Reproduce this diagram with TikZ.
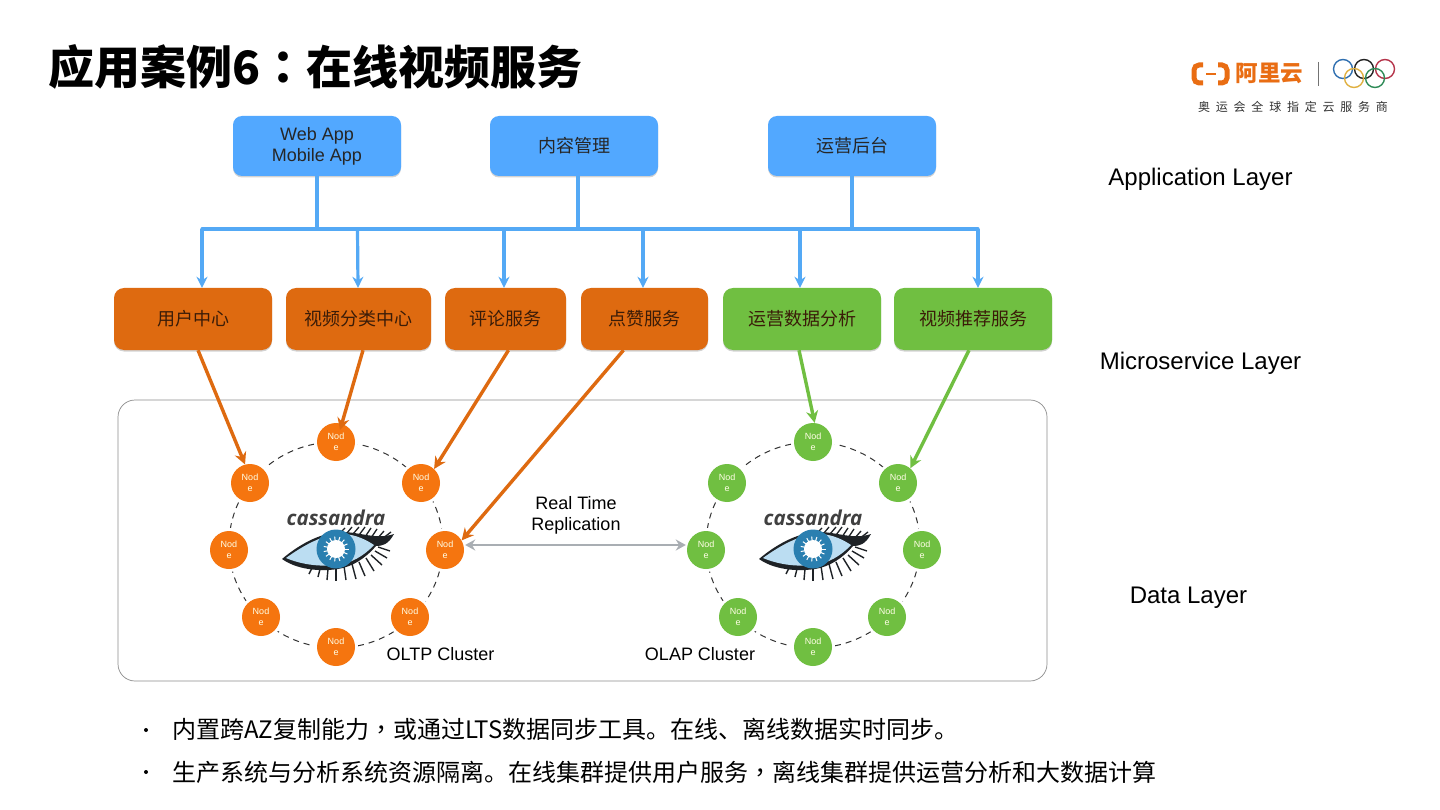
\documentclass[tikz,border=0pt]{standalone}
\usepackage{xcolor}
\usepackage{fontspec}
\usepackage{tikz}
\usetikzlibrary{calc,arrows.meta,shadows}
\setmainfont{Noto Sans CJK SC}
\newfontfamily\latinfont{Liberation Sans}
\newfontfamily\logofont{Open Sans}
\newfontfamily\tcpunct{Noto Sans CJK TC}
\newfontfamily\spacedfont[LetterSpace=48]{Noto Sans CJK SC}
\definecolor{appblue}{HTML}{52A8FF}
\definecolor{linkblue}{HTML}{54A9F5}
\definecolor{svcorange}{HTML}{DE6A10}
\definecolor{svcgreen}{HTML}{70BF41}
\definecolor{ringorange}{HTML}{F5750F}
\definecolor{aliorange}{HTML}{E96D13}
\definecolor{boxtext}{HTML}{3A1C08}
\definecolor{eyelight}{HTML}{BBDDF2}
\definecolor{eyeiris}{HTML}{2A7FB0}
\definecolor{eyedark}{HTML}{1E2226}
\definecolor{replgray}{HTML}{A9AEB3}
\definecolor{ringa}{HTML}{2F6FB0}
\definecolor{ringb}{HTML}{222222}
\definecolor{ringc}{HTML}{B5344A}
\definecolor{ringd}{HTML}{E0B040}
\definecolor{ringe}{HTML}{2E8B57}
\tikzset{
    appbox/.style={rounded corners=9pt,fill=appblue,minimum height=60pt,align=center,
        font=\fontsize{18}{21}\selectfont,text=black!85,
        drop shadow={shadow xshift=0pt,shadow yshift=-1.5pt,opacity=.35}},
    svcbox/.style={rounded corners=10pt,minimum height=62pt,font=\fontsize{18}{21}\selectfont,text=boxtext,
        drop shadow={shadow xshift=0pt,shadow yshift=-1.5pt,opacity=.35}},
    ringnode/.style={circle,minimum size=38pt,inner sep=0pt,align=center,text=white!90!yellow,
        font=\latinfont\fontsize{9}{11}\selectfont,
        preaction={draw=white,line width=6pt}},
    layertext/.style={font=\latinfont\fontsize{24}{28}\selectfont},
    plaintext/.style={font=\latinfont\fontsize{18}{21}\selectfont,align=center},
    bullettext/.style={anchor=west,font=\fontsize{24}{28}\selectfont,inner sep=0pt},
    uplink/.style={line width=3.2pt,linkblue},
    downlink/.style={line width=3.2pt,linkblue,-{Stealth[length=11pt,width=11pt]}},
    datalink/.style={line width=3.4pt,-{Stealth[length=12pt,width=12pt]}},
    pics/eyelogo/.style={code={
        % lashes first, then the lid and the iris
        \foreach \a/\b/\c/\d in {4/-19/9/-24,11/-19/16/-25,17/-18/23/-25,
            23/-17/29/-25,29/-15/35/-24,35/-14/41/-23,41/-13/48/-21,46/-13/55/-20}
            \draw[eyedark,line width=1.3pt] (\a,\b) -- (\c,\d);
        \foreach \a/\b/\c/\d in {-24/16/-27/22,-16/17/-18/25,-8/17/-9/28,0/16/0/29,8/14/10/28,
            16/12/20/27,23/10/29/24,30/6/38/19,35/3/46/13,39/-1/51/6,42/-5/54/-1}
            \draw[eyedark,line width=1.4pt] (\a,\b) -- (\c,\d);
        \fill[eyedark] (-54,7) .. controls (-34,-10) and (-12,-20) .. (6,-20)
            .. controls (24,-20) and (40,-12) .. (58,-18)
            .. controls (52,-7) and (46,-6) .. (40,-6)
            .. controls (30,6) and (16,15) .. (2,17)
            .. controls (-18,20) and (-40,17) .. (-54,7) -- cycle;
        \fill[eyelight] (-50,6) .. controls (-32,-7) and (-12,-18) .. (6,-18)
            .. controls (20,-18) and (32,-11) .. (38,-7)
            .. controls (28,4) and (14,12) .. (0,13)
            .. controls (-18,15) and (-36,12) .. (-50,6) -- cycle;
        \fill[eyeiris] (0,-3) circle (19.5pt);
        \foreach \ang in {0,24,...,336}
            \draw[white,line width=1pt] (0,-3) -- ++(\ang:12.5pt);
        \fill[white] (0,-3) circle (9pt);
    }},
}
\begin{document}
\begin{tikzpicture}[x=1pt,y=-1pt]
    \useasboundingbox[fill=white] (0,0) rectangle (1440,810);

    \node[anchor=west,inner sep=0pt,font=\bfseries\fontsize{46}{50}\selectfont] (title) at (48,67) {应用案例6{\tcpunct\bfseries ：}在线视频服务};

    % logo top right
    \draw[aliorange,line width=5pt,rounded corners=5pt] (1203,65) -- (1194,65) -- (1194,83) -- (1203,83);
    \draw[aliorange,line width=5pt,rounded corners=5pt] (1218,65) -- (1227,65) -- (1227,83) -- (1218,83);
    \draw[aliorange,line width=2.2pt] (1206,74) -- (1216,74);
    \node[anchor=west,inner sep=0pt,text=aliorange,font=\bfseries\fontsize{22.5}{24}\selectfont] (aliname) at (1235.5,73.5) {阿里云};
    \draw[black!55,line width=1pt] (1318,62) -- (1318,86);
    \foreach \rx/\ry/\rc in {1343/69/ringa,1364/69/ringb,1385/69/ringc,1354/78/ringd,1375/78/ringe}
        \draw[\rc,line width=1.4pt] (\rx,\ry) circle (9.5pt);
    \node[anchor=west,inner sep=0pt,text=black!80,font=\spacedfont\fontsize{12}{14}\selectfont] (sponsor) at (1198,107) {奥运会全球指定云服务商};

    % application layer
    \node[appbox,minimum width=168pt,font=\latinfont\fontsize{18}{21}\selectfont] (webapp) at (317,146) {Web App\\Mobile App};
    \node[appbox,minimum width=168pt] (content) at (574,146) {内容管理};
    \node[appbox,minimum width=168pt] (backend) at (852,146) {运营后台};

    \coordinate (bus1) at (202,229);
    \coordinate (bus2) at (978,229);
    \draw[uplink] (webapp.south) -- (webapp.south |- bus1);
    \draw[uplink] ([xshift=4pt]content.south) -- ([xshift=4pt]content.south |- bus1);
    \draw[uplink] (backend.south) -- (backend.south |- bus1);
    \draw[uplink,line cap=round] (bus1) -- (bus2);

    % microservice layer
    \node[svcbox,fill=svcorange,minimum width=158pt] (user) at (193,319) {用户中心};
    \node[svcbox,fill=svcorange,minimum width=145pt] (video) at (358.5,319) {视频分类中心};
    \node[svcbox,fill=svcorange,minimum width=121pt] (comment) at (505.5,319) {评论服务};
    \node[svcbox,fill=svcorange,minimum width=127pt] (like) at (644.5,319) {点赞服务};
    \node[svcbox,fill=svcgreen,minimum width=158pt] (stats) at (802,319) {运营数据分析};
    \node[svcbox,fill=svcgreen,minimum width=158pt] (recommend) at (973,319) {视频推荐服务};

    \draw[downlink] (bus1) -- (bus1 |- user.north);
    \draw[downlink] ([xshift=-1pt]bus1 -| video.north) -- ([xshift=-.5pt]video.north);
    \draw[downlink] ([xshift=-1.5pt]bus1 -| comment.north) -- ([xshift=-1.5pt]comment.north);
    \draw[downlink] ([xshift=-1.5pt]bus1 -| like.north) -- ([xshift=-1.5pt]like.north);
    \draw[downlink] ([xshift=-2pt]bus1 -| stats.north) -- ([xshift=-2pt]stats.north);
    \draw[downlink] (bus2) -- (bus2 |- recommend.north);

    % data layer
    \node[draw=black!45,line width=.7pt,rounded corners=17pt,minimum width=929pt,minimum height=281pt] (datalayer) at (582.5,540.5) {};

    \foreach \cname/\cx/\ccol in {oltp/336/ringorange,olap/813/svcgreen}{
        \draw[black!80,line width=1pt,dash pattern=on 6pt off 5pt] (\cx,545) ellipse (107pt and 103pt);
        \foreach \nname/\dx/\dy in {a/0/-103,b/-86/-62,c/85/-62,d/-107/5,e/109/5,f/-75/72,g/74/72,h/0/102}
            \node[ringnode,fill=\ccol] (\cname\nname) at (\cx+\dx,545+\dy) {Nod\\e};
        \node[font=\logofont\bfseries\itshape\fontsize{20.5}{24}\selectfont,text=black!75,inner sep=0pt] (\cname name) at (\cx,518) {cassandra};
        \pic at (\cx,552) {eyelogo};
    }

    \draw[datalink,svcorange] ([xshift=5pt]user.south) -- (oltpb.105);
    \draw[datalink,svcorange] ([xshift=4.5pt]video.south) -- ([shift={(4pt,12pt)}]oltpa.center);
    \draw[datalink,svcorange] ([xshift=3pt]comment.south) -- (oltpc.47);
    \draw[datalink,svcorange] ([xshift=-21pt]like.south) -- (oltpe.30);
    \draw[datalink,svcgreen] ([xshift=-3pt]stats.south) -- (olapa.85);
    \draw[datalink,svcgreen] ([xshift=-4pt]recommend.south) -- (olapc.50);

    \draw[replgray,line width=2.8pt,{Stealth[length=10pt,width=11pt]}-{Stealth[length=10pt,width=11pt]}] ([yshift=5pt,xshift=1pt]oltpe.east) -- ([yshift=5pt,xshift=-1pt]olapd.west);

    \node[plaintext] (realtime) at (576,515.5) {Real Time\\Replication};
    \node[plaintext] (oltplabel) at (440.5,654.5) {OLTP Cluster};
    \node[plaintext] (olaplabel) at (700,654.5) {OLAP Cluster};

    \node[layertext] (applayer) at (1200.5,179.5) {Application Layer};
    \node[layertext] (svclayer) at (1200.5,363) {Microservice Layer};
    \node[layertext] (datatext) at (1188.5,598) {Data Layer};

    % bullets
    \fill (146,730) circle (2pt);
    \fill (146,772) circle (2pt);
    \node[bullettext] (line1) at (172,729) {内置跨AZ复制能力{\tcpunct ，}或通过LTS数据同步工具。在线、离线数据实时同步。};
    \node[bullettext] (line2) at (172,772) {生产系统与分析系统资源隔离。在线集群提供用户服务{\tcpunct ，}离线集群提供运营分析和大数据计算};
\end{tikzpicture}
\end{document}
